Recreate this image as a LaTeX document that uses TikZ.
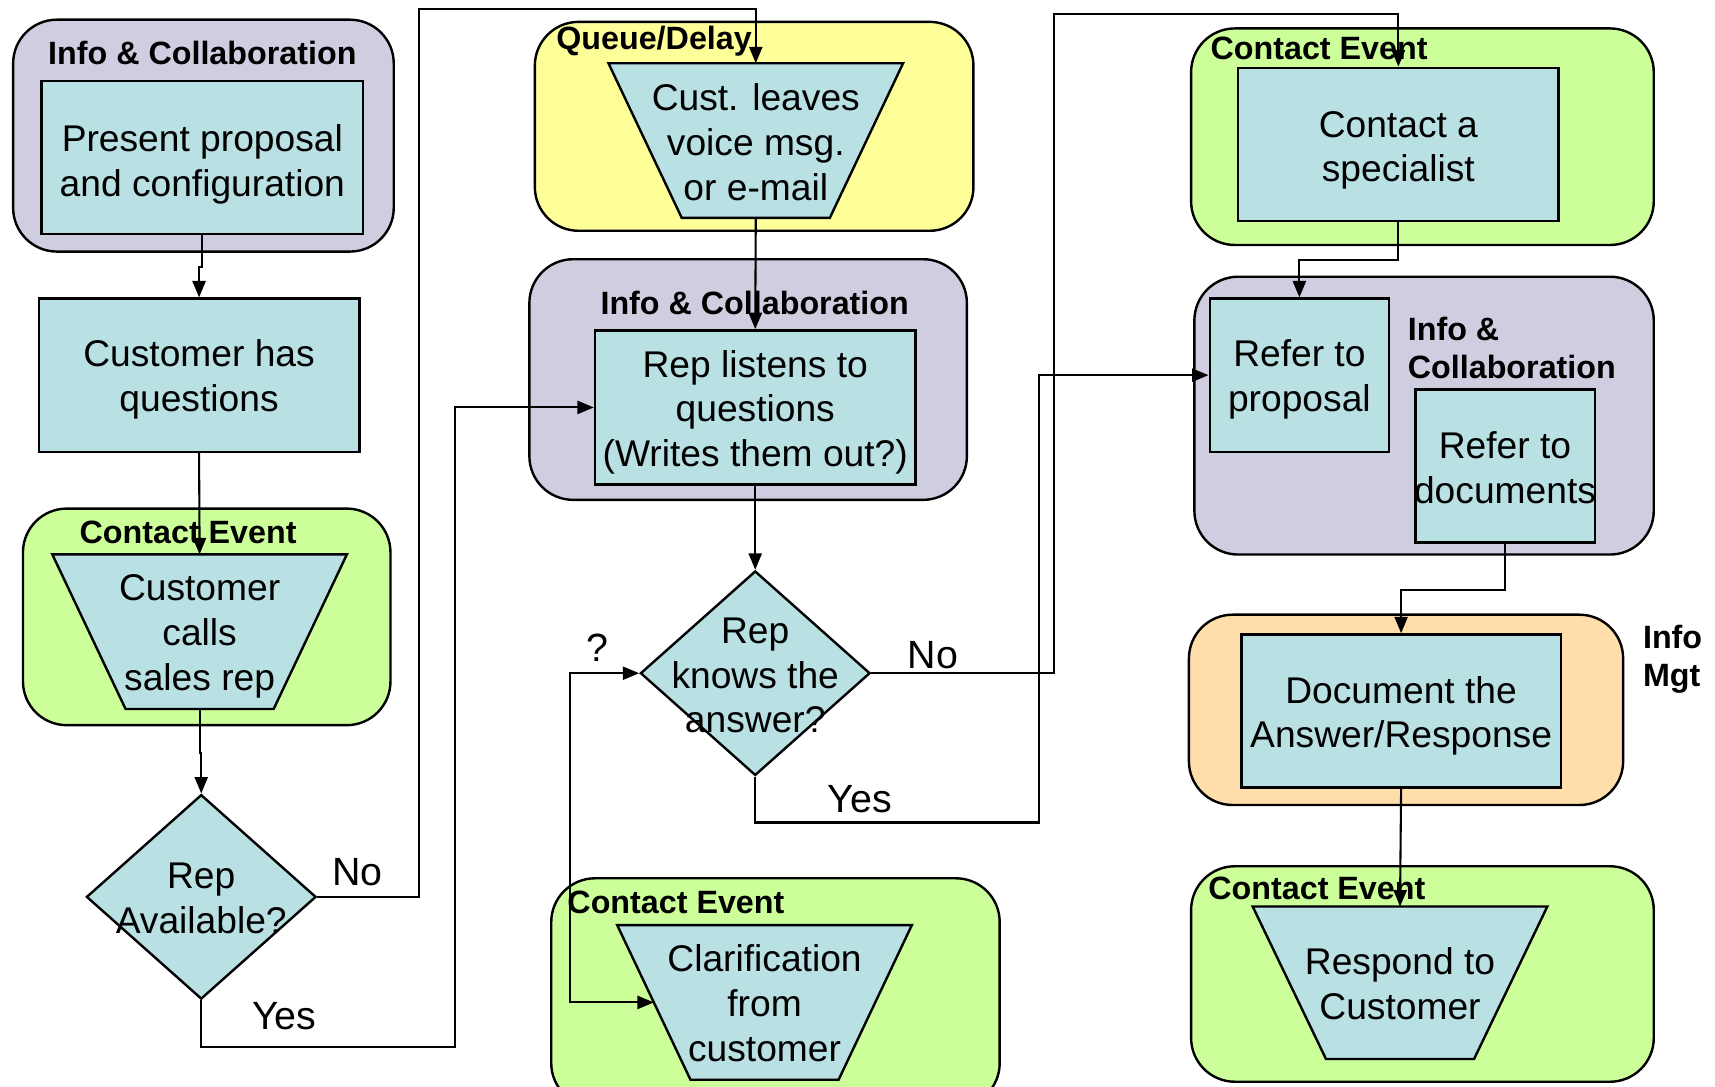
\documentclass[tikz,border=0pt]{standalone}
\usepackage{fontspec}
\setmainfont{Liberation Sans}
\usetikzlibrary{shapes.geometric,arrows.meta,calc}

\definecolor{lavfill}{RGB}{207,206,224}
\definecolor{stepfill}{RGB}{185,224,227}
\definecolor{greenfill}{RGB}{204,255,153}
\definecolor{yellowfill}{RGB}{255,255,153}
\definecolor{peachfill}{RGB}{255,222,171}

% trapezoid drawn around an invisible rectangle node (width = mean of both parallel sides)
\newcommand\drawtrap[2]{%
  \filldraw[shapeline, fill=stepfill]
    ($(#1.north west)+(-#2,0)$) -- ($(#1.north east)+(#2,0)$) --
    ($(#1.south east)+(-#2,0)$) -- ($(#1.south west)+(#2,0)$) -- cycle;}

\begin{document}
\begin{tikzpicture}[x=1pt,y=-1pt,
  grp/.style={draw=black, line width=2.2pt, rounded corners=40pt},
  shapeline/.style={draw=black, line width=2.2pt},
  stepbox/.style={rectangle, shapeline, fill=stepfill, inner sep=0pt},
  decide/.style={diamond, shapeline, fill=stepfill, inner sep=0pt, minimum width=210pt, minimum height=187pt},
  trapnode/.style={rectangle, inner sep=0pt, minimum width=202pt, minimum height=141pt},
  body/.style={font=\fontsize{34}{41}\selectfont, align=center, inner sep=0pt},
  grptitle/.style={font=\fontsize{29.5}{35}\selectfont\bfseries, inner sep=0pt},
  lbl/.style={font=\fontsize{36}{40}\selectfont, inner sep=0pt},
  conn/.style={line width=1.9pt, -{Triangle[length=15pt,width=12pt]}},
]
\useasboundingbox (0,0) rectangle (1568,993);
\clip (0,0) rectangle (1568,993);
\fill[white] (0,0) rectangle (1568,993);

% ---------- group panels ----------
\draw[grp, fill=lavfill]    (12,18)    rectangle (360,230);
\draw[grp, fill=greenfill]  (21,465)   rectangle (357,663);
\draw[grp, fill=yellowfill] (489,20)   rectangle (890,211);
\draw[grp, fill=lavfill]    (484,237)  rectangle (884,457);
\draw[grp, fill=greenfill]  (504,803)  rectangle (914,1012);
\draw[grp, fill=greenfill]  (1089,26)  rectangle (1512,224);
\draw[grp, fill=lavfill]    (1092,253) rectangle (1512,507);
\draw[grp, fill=peachfill]  (1087,562) rectangle (1484,736);
\draw[grp, fill=greenfill]  (1089,792) rectangle (1512,989);

% ---------- group titles ----------
\node[grptitle] (tA) at (185,48)   {Info \& Collaboration};
\node[grptitle] (tB) at (172,487)  {Contact Event};
\node[grptitle] (tC) at (598,38)   {Queue/Delay};
\node[grptitle] (tD) at (690,277)  {Info \& Collaboration};
\node[grptitle] (tE) at (618,825)  {Contact Event};
\node[grptitle] (tF) at (1206,44)  {Contact Event};
\node[grptitle, anchor=west, align=left] (tG) at (1287,318) {Info \&\\Collaboration};
\node[grptitle, anchor=west, align=left] (tH) at (1502,603) {Info\\Mgt};
\node[grptitle] (tI) at (1204,812) {Contact Event};

% ---------- process steps ----------
\node[stepbox, minimum width=294pt, minimum height=140pt] (pp)  at (185,144)    {};
\node[stepbox, minimum width=293pt, minimum height=140pt] (chq) at (182,343)    {};
\node[trapnode] (ccs) at (182.5,577.5) {};  \drawtrap{ccs}{33.5}
\node[decide] (ra) at (184,820) {};

\node[trapnode] (clv) at (691,128.5) {};    \drawtrap{clv}{33.5}
\node[stepbox, minimum width=293pt, minimum height=141pt] (rl)  at (690.5,372.5) {};
\node[decide] (rk) at (690.5,615.5) {};
\node[trapnode] (cfc) at (699,916.5) {};    \drawtrap{cfc}{33.5}

\node[stepbox, minimum width=293pt, minimum height=140pt] (cs)  at (1278.5,132) {};
\node[stepbox, minimum width=164pt, minimum height=140pt] (rp)  at (1188,343)   {};
\node[stepbox, minimum width=164pt, minimum height=140pt] (rd)  at (1376,426)   {};
\node[stepbox, minimum width=292pt, minimum height=140pt] (da)  at (1281,650)   {};
\node[trapnode, minimum height=139pt] (rc) at (1280,898.5) {};  \drawtrap{rc}{33.5}

% ---------- step texts ----------
\node[body] at ($(pp)+(0,6)$)    {Present proposal\\and configuration};
\node[body] at ($(chq)+(0,4)$)   {Customer has\\questions};
\node[body] at ($(ccs)+(0,4.5)$) {Customer\\calls\\sales rep};
\node[body] at ($(ra)+(0,1.5)$)  {Rep\\Available?};
\node[body] at ($(clv)+(0,1.5)$) {Cust. leaves\\voice msg.\\or e-mail};
\node[body] at ($(rl)+(0,4.5)$)  {Rep listens to\\questions\\(Writes them out?)};
\node[body] at ($(rk)+(0,2)$)    {Rep\\knows the\\answer?};
\node[body] at ($(cfc)+(0,0.5)$) {Clarification\\from\\customer};
\node[body] at ($(cs)+(0,5.5)$)  {Contact a\\specialist};
\node[body] at ($(rp)+(0,4)$)    {Refer to\\proposal};
\node[body] at ($(rd)+(0,1.5)$)  {Refer to\\documents};
\node[body] at ($(da)+(0,4.5)$)  {Document the\\Answer/Response};
\node[body] at ($(rc)+(0,1)$)    {Respond to\\Customer};

% ---------- branch labels ----------
\node[lbl] (noA)  at (327,797) {No};
\node[lbl] (yesA) at (260,929) {Yes};
\node[lbl] (qmk)  at (546,592) {?};
\node[lbl] (noB)  at (853,599) {No};
\node[lbl] (yesB) at (786,731) {Yes};

% ---------- routing points ----------
\coordinate (n1) at (383,8);
\coordinate (y1) at (416,957);
\coordinate (n2) at (964,13);
\coordinate (y2) at (950,752);
\coordinate (qx) at (521,0);

% ---------- connectors ----------
\draw[conn] (pp.south) -- ++(0,29) -| (chq.north);
\draw[conn] (chq.south) -- (ccs.north);
\draw[conn] (ccs.south) -- ++(0,40) -| (ra.north);
\draw[conn] (ra.east) -| (n1) -| (clv.north);
\draw[conn] (ra.south) |- (y1) |- (rl.west);
\draw[conn] (clv.south) -- (rl.north);
\draw[conn] (rl.south) -- (rk.north);
\draw[conn] (rk.east) -| (n2) -| (cs.north);
\draw[conn] (rk.south) |- (y2) |- (rp.west);
\draw[conn, {Triangle[length=15pt,width=12pt]}-{Triangle[length=15pt,width=12pt]}]
  (rk.west) -- (rk.west -| qx) |- (cfc.west);
\draw[conn] (cs.south) -- ++(0,35) -| (rp.north);
\draw[conn] (rd.south) -- ++(0,42) -| (da.north);
\draw[conn] (da.south) -- (rc.north);
\end{tikzpicture}
\end{document}
